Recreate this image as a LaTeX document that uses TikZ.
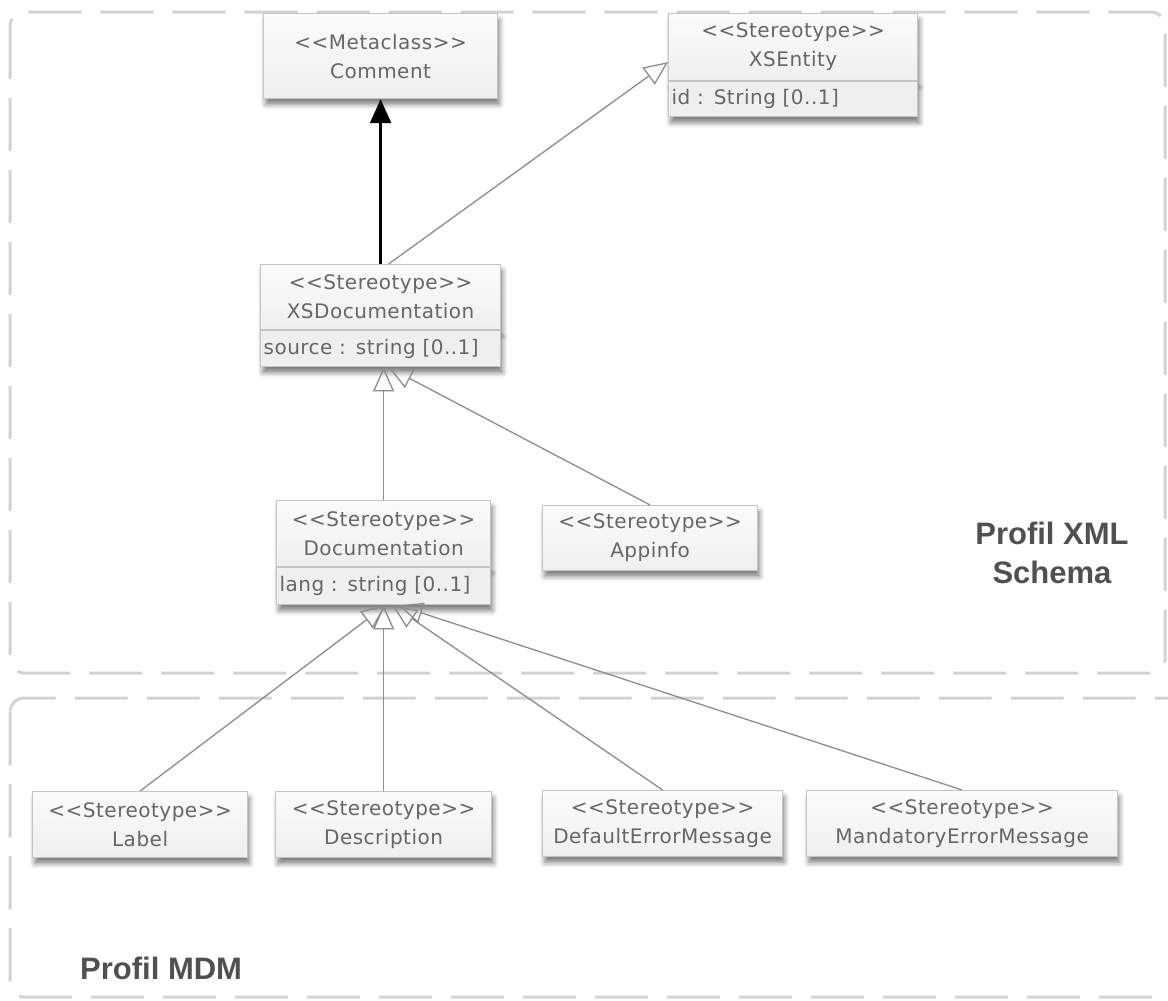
\documentclass[tikz,border=0pt]{standalone}
\usepackage{fontspec}
\newfontfamily\boxfont[LetterSpace=2.5]{DejaVu Sans}
\newfontfamily\headfont{Liberation Sans}
\usetikzlibrary{arrows.meta,calc,shadows.blur}

\definecolor{boxline}{HTML}{C4C4C4}
\definecolor{boxtop}{HTML}{FBFBFB}
\definecolor{boxbot}{HTML}{EFEFEF}
\definecolor{boxtext}{HTML}{666666}
\definecolor{wire}{HTML}{8C8C8C}
\definecolor{frame}{HTML}{D2D2D2}
\definecolor{headtext}{HTML}{505050}

\tikzset{
  classbox/.style={draw=boxline, line width=1.2pt, top color=boxtop, bottom color=boxbot,
    blur shadow={shadow xshift=2pt, shadow yshift=-6pt, shadow blur radius=5pt, shadow opacity=50},
    text=boxtext, font=\boxfont\fontsize{20}{29}\selectfont, align=center, inner sep=0pt},
  attrbox/.style={draw=boxline, line width=1.2pt, fill=boxbot,
    blur shadow={shadow xshift=2pt, shadow yshift=-6pt, shadow blur radius=5pt, shadow opacity=50},
    text=boxtext, font=\boxfont\fontsize{20}{24}\selectfont, align=left,
    inner xsep=3pt, inner ysep=0pt, anchor=north west},
  profile/.style={draw=frame, line width=3pt, rounded corners=14pt, dash pattern=on 53pt off 19pt},
  genline/.style={draw=wire, line width=1.3pt, -{Triangle[open, length=24pt, width=21pt]}},
  extline/.style={draw=black, line width=2.6pt, -{Triangle[length=24pt, width=21pt]}},
  heading/.style={text=headtext, font=\headfont\bfseries\fontsize{31}{39}\selectfont, align=center, inner sep=0pt}
}

\begin{document}
\begin{tikzpicture}[x=1pt, y=-1pt]
\useasboundingbox (0,0) rectangle (1168,1001);
\clip (0,0) rectangle (1168,1001);

% profile packages
\draw[profile] (10,12) rectangle (1165,673);
\draw[profile] (10,698) rectangle (1190,997);

% XML Schema profile classes
\node[classbox, minimum width=234pt, minimum height=85pt, anchor=north west] (comment) at (263,13)
  {<<Metaclass>>\\Comment};

\node[classbox, minimum width=249pt, minimum height=67pt, anchor=north west] (xsent) at (668,13)
  {<<Stereotype>>\\XSEntity};
\node[attrbox, text width=243pt, minimum height=35pt] (xsentA) at (xsent.south west)
  {id : String [0..1]};

\node[classbox, minimum width=240pt, minimum height=65pt, anchor=north west] (xsdoc) at (260,264)
  {<<Stereotype>>\\XSDocumentation};
\node[attrbox, text width=234pt, minimum height=36pt] (xsdocA) at (xsdoc.south west)
  {source : string [0..1]};

\node[classbox, minimum width=214pt, minimum height=66pt, anchor=north west] (doc) at (276,500)
  {<<Stereotype>>\\Documentation};
\node[attrbox, text width=208pt, minimum height=37pt] (docA) at (doc.south west)
  {lang : string [0..1]};

\node[classbox, minimum width=215pt, minimum height=65pt, anchor=north west] (app) at (542,505)
  {<<Stereotype>>\\Appinfo};

% MDM profile classes
\node[classbox, minimum width=215pt, minimum height=66pt, anchor=north west] (lbl) at (32,791)
  {<<Stereotype>>\\Label};
\node[classbox, minimum width=216pt, minimum height=66pt, anchor=north west] (desc) at (275,791)
  {<<Stereotype>>\\Description};
\node[classbox, minimum width=240pt, minimum height=66pt, anchor=north west] (dflt) at (542,790)
  {<<Stereotype>>\\DefaultErrorMessage};
\node[classbox, minimum width=311pt, minimum height=66pt, anchor=north west] (mand) at (806,790)
  {<<Stereotype>>\\MandatoryErrorMessage};

% profile titles
\node[heading] (xmltitle) at (1052,553) {Profil XML\\Schema};
\node[heading, anchor=west] (mdmtitle) at (80,968) {Profil MDM};

% extension and generalisations
\draw[extline] (xsdoc.north) -- (comment.south);
\coordinate (xsentIn) at ($(xsent.west)+(0,15)$);
\draw[genline] ($(xsdoc.north)+(8,0)$) -- (xsentIn);

\draw[genline] (doc.north) -- (doc.north |- xsdocA.south);
\draw[genline] (app.north) -- ($(xsdocA.south)+(8,0)$);

\draw[genline] (lbl.north) -- ($(docA.south)+(2,0)$);
\draw[genline] (desc.north) -- (desc.north |- docA.south);
\draw[genline] (dflt.north) -- ($(docA.south)+(9,0)$);
\draw[genline] (mand.north) -- ($(docA.south)+(15,0)$);
\end{tikzpicture}
\end{document}
